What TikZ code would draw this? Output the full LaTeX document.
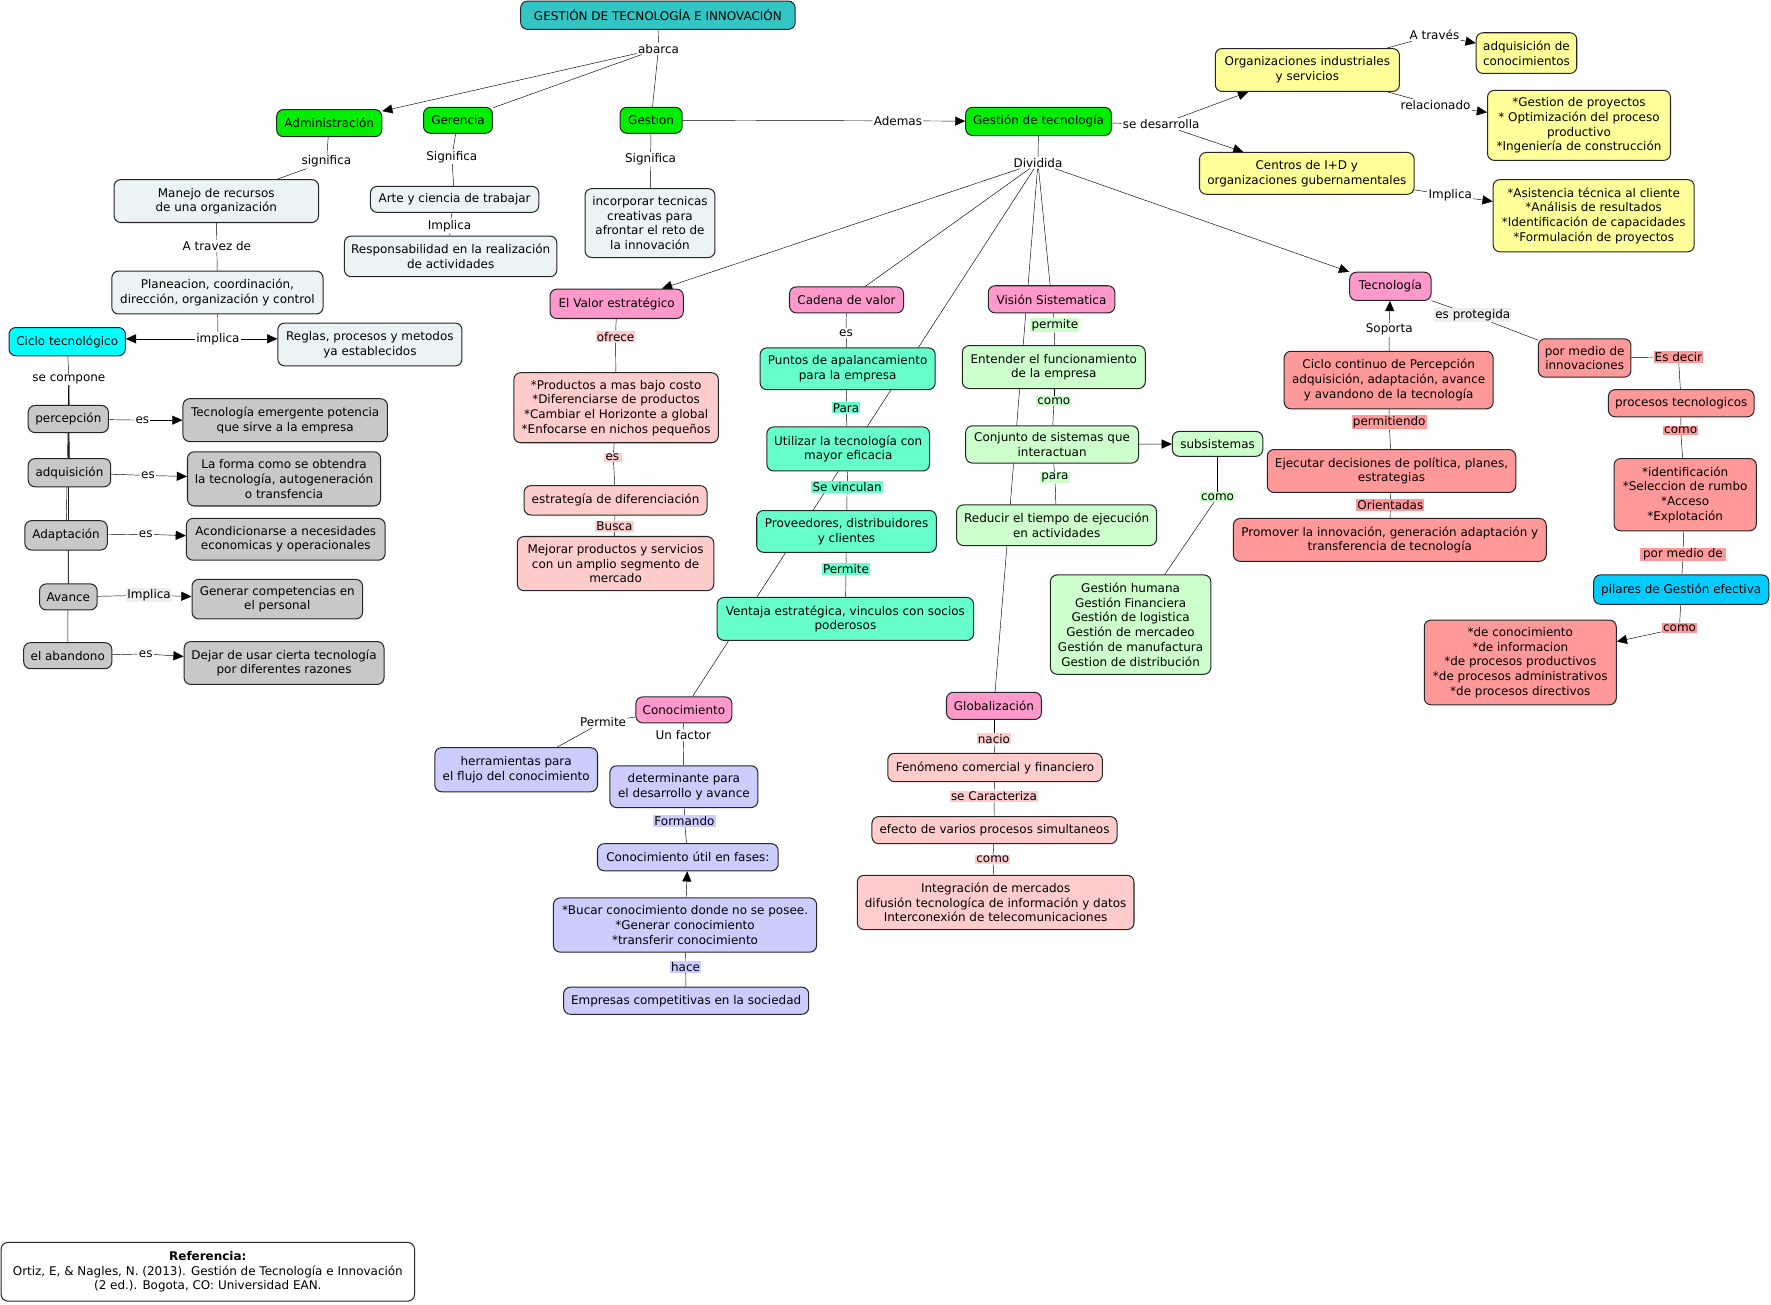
\documentclass[tikz,border=0pt]{standalone}
\usepackage{fontspec}
\setmainfont{DejaVu Sans}
\usetikzlibrary{arrows.meta,backgrounds}
\definecolor{cTitle}{RGB}{51,196,196}
\definecolor{cGreen}{RGB}{0,238,0}
\definecolor{cLight}{RGB}{236,243,245}
\definecolor{cGray}{RGB}{200,200,200}
\definecolor{cCyan}{RGB}{0,255,255}
\definecolor{cPink}{RGB}{255,153,204}
\definecolor{cLPink}{RGB}{255,204,204}
\definecolor{cAqua}{RGB}{102,255,204}
\definecolor{cLGreen}{RGB}{204,255,204}
\definecolor{cYellow}{RGB}{255,255,153}
\definecolor{cSalmon}{RGB}{255,153,153}
\definecolor{cLav}{RGB}{204,204,255}
\definecolor{cSky}{RGB}{0,204,255}
\definecolor{cLabGray}{RGB}{238,238,238}
\begin{document}
\begin{tikzpicture}[x=1pt,y=-1pt,
  every node/.style={font=\fontsize{10.6}{13}\selectfont},
  box/.style={draw=black!85, line width=0.9pt, rounded corners=6pt, align=center, inner sep=2pt},
  sz/.style 2 args={minimum width=#1pt, minimum height=#2pt},
  lab/.style={fill=white, inner sep=1pt, align=center},
  arr/.style={-{Triangle[length=9pt,width=8pt]}}]
\useasboundingbox (0,0) rectangle (1568,1155);

% ---- top
\node[box,fill=cTitle,sz={243}{25}] (title) at (582.5,13.5) {GESTIÓN DE TECNOLOGÍA E INNOVACIÓN};
\node[lab] (lAbarca) at (583,43) {abarca};
\node[box,fill=cGreen,sz={93}{24}] (adm) at (291.5,109) {Administración};
\node[box,fill=cGreen,sz={61}{23}] (ger) at (405.5,106.5) {Gerencia};
\node[box,fill=cGreen,sz={55}{23}] (gest) at (576.5,106.5) {Gestion};
\node[box,fill=cGreen,sz={129}{25}] (gdt) at (919.5,107.5) {Gestión de tecnología};
\node[lab] (lAdemas) at (795,107) {Ademas};

% ---- left
\node[lab] (lSig1) at (289,143) {significa};
\node[box,fill=cLight,sz={181}{38}] (manejo) at (191.5,178) {Manejo de recursos\\de una organización};
\node[lab] (lSig2) at (400,139) {Significa};
\node[box,fill=cLight,sz={149}{23}] (arte) at (402.5,176.5) {Arte y ciencia de trabajar};
\node[lab] (lImp1) at (398,200) {Implica};
\node[box,fill=cLight,sz={188}{36}] (resp) at (399,227) {Responsabilidad en la realización\\de actividades};
\node[lab] (lSig3) at (576,141) {Significa};
\node[box,fill=cLight,sz={115}{61}] (incorp) at (575.5,197.5) {incorporar tecnicas\\creativas para\\afrontar el reto de\\la innovación};
\node[lab] (lTravez) at (192,218) {A travez de};
\node[box,fill=cLight,sz={187}{38}] (plan) at (192.5,259) {Planeacion, coordinación,\\dirección, organización y control};
\node[lab] (lImpl) at (193,300) {implica};
\node[box,fill=cCyan,sz={103}{25}] (ciclo) at (59.5,302.5) {Ciclo tecnológico};
\node[box,fill=cLight,sz={163}{38}] (reglas) at (327.5,305) {Reglas, procesos y metodos\\ya establecidos};
\node[lab] (lComp) at (61,336) {se compone};
\node[box,fill=cGray,sz={71}{24}] (perc) at (60.5,371) {percepción};
\node[box,fill=cGray,sz={73}{25}] (adq) at (61.5,418.5) {adquisición};
\node[box,fill=cGray,sz={73}{26}] (adap) at (58.5,474) {Adaptación};
\node[box,fill=cGray,sz={51}{23}] (avan) at (60.5,528.5) {Avance};
\node[box,fill=cGray,sz={78}{23}] (aban) at (60,580.5) {el abandono};
\node[lab] (lEs1) at (126,372) {es};
\node[box,fill=cGray,sz={181}{38}] (temerg) at (252.5,372) {Tecnología emergente potencia\\que sirve a la empresa};
\node[lab] (lEs2) at (131,421) {es};
\node[box,fill=cGray,sz={171}{48}] (forma) at (251.5,424) {La forma como se obtendra\\la tecnología, autogeneración\\o transfencia};
\node[lab] (lEs3) at (129,473) {es};
\node[box,fill=cGray,sz={176}{37}] (acond) at (253,477.5) {Acondicionarse a necesidades\\economicas y operacionales};
\node[lab,fill=cLabGray] (lImp2) at (132,527) {Implica};
\node[box,fill=cGray,sz={151}{35}] (gener) at (245.5,530.5) {Generar competencias en\\el personal};
\node[lab] (lEs4) at (129,579) {es};
\node[box,fill=cGray,sz={177}{38}] (dejar) at (251.5,587) {Dejar de usar cierta tecnología\\por diferentes razones};

% ---- middle
\node[lab] (lDiv) at (919,144) {Dividida};
\node[box,fill=cPink,sz={118}{26}] (valor) at (546,269) {El Valor estratégico};
\node[box,fill=cPink,sz={101}{23}] (cadena) at (749.5,265.5) {Cadena de valor};
\node[box,fill=cPink,sz={112}{24}] (vision) at (931,265) {Visión Sistematica};
\node[box,fill=cPink,sz={72}{25}] (tecno) at (1231,253.5) {Tecnología};

\node[lab,fill=cLPink] (lOfrece) at (545,298) {ofrece};
\node[box,fill=cLPink,sz={181}{62}] (prod) at (545.5,361) {*Productos a mas bajo costo\\*Diferenciarse de productos\\*Cambiar el Horizonte a global\\*Enfocarse en nichos pequeños};
\node[lab,fill=cLPink] (lEs5) at (543,405) {es\,};
\node[box,fill=cLPink,sz={162}{26}] (estrat) at (545,443) {estrategía de diferenciación};
\node[lab,fill=cLPink] (lBusca) at (544,466) {Busca};
\node[box,fill=cLPink,sz={174}{48}] (mejorar) at (545,499) {Mejorar productos y servicios\\con un amplio segmento de\\mercado};

\node[lab] (lEs6) at (749,295) {es};
\node[box,fill=cAqua,sz={155}{37}] (puntos) at (750.5,326.5) {Puntos de apalancamiento\\para la empresa};
\node[lab,fill=cAqua] (lPara) at (749,361) {Para};
\node[box,fill=cAqua,sz={144}{39}] (utiliz) at (751,397.5) {Utilizar la tecnología con\\mayor eficacia};
\node[lab,fill=cAqua] (lVinc) at (750,431) {Se vinculan};
\node[box,fill=cAqua,sz={159}{37}] (prov) at (749.5,470.5) {Proveedores, distribuidores\\y clientes};
\node[lab,fill=cAqua] (lPerm1) at (749,504) {Permite};
\node[box,fill=cAqua,sz={227}{38}] (ventaja) at (748.5,548) {Ventaja estratégica, vinculos con socios\\poderosos};

\node[lab,fill=cLGreen] (lPermite) at (934,288) {permite};
\node[box,fill=cLGreen,sz={162}{38}] (entender) at (933,325) {Entender el funcionamiento\\de la empresa};
\node[lab,fill=cLGreen] (lComo1) at (933,355) {como};
\node[box,fill=cLGreen,sz={153}{33}] (conj) at (931.5,393.5) {Conjunto de sistemas que\\interactuan};
\node[box,fill=cLGreen,sz={80}{22}] (subs) at (1078,393) {subsistemas};
\node[lab,fill=cLGreen] (lPara2) at (934,423) {para};
\node[box,fill=cLGreen,sz={177}{36}] (reducir) at (935.5,465) {Reducir el tiempo de ejecución\\en actividades};
\node[lab,fill=cLGreen] (lComo2) at (1078,440) {como};
\node[box,fill=cLGreen,sz={142}{88}] (ghum) at (1001,553) {Gestión humana\\Gestión Financiera\\Gestión de logistica\\Gestión de mercadeo\\Gestión de manufactura\\Gestion de distribución};

\node[box,fill=cPink,sz={85}{23}] (conoc) at (605.5,628.5) {Conocimiento};
\node[lab] (lPerm2) at (534,639) {Permite};
\node[box,fill=cLav,sz={144}{39}] (herr) at (457,681.5) {herramientas para\\el flujo del conocimiento};
\node[lab] (lFactor) at (605,651) {Un factor};
\node[box,fill=cLav,sz={131}{37}] (determ) at (605.5,696.5) {determinante para\\el desarrollo y avance};
\node[lab,fill=cLav] (lForm) at (606,727) {Formando};
\node[box,fill=cLav,sz={160}{24}] (cutil) at (609,759) {Conocimiento útil en fases:};
\node[box,fill=cLav,sz={233}{48}] (bucar) at (606.5,819) {*Bucar conocimiento donde no se posee.\\*Generar conocimiento\\*transferir conocimiento};
\node[lab,fill=cLav] (lHace) at (607,856) {hace};
\node[box,fill=cLav,sz={217}{24}] (empresas) at (607.5,886) {Empresas competitivas en la sociedad};

\node[box,fill=cPink,sz={84}{24}] (glob) at (880,625) {Globalización};
\node[lab,fill=cLPink] (lNacio) at (880,654) {nacio};
\node[box,fill=cLPink,sz={190}{25}] (fenom) at (881,679.5) {Fenómeno comercial y financiero};
\node[lab,fill=cLPink] (lCaract) at (880,705) {se Caracteriza};
\node[box,fill=cLPink,sz={217}{24}] (efecto) at (880.5,735) {efecto de varios procesos simultaneos};
\node[lab,fill=cLPink] (lComo3) at (879,761) {como};
\node[box,fill=cLPink,sz={245}{48}] (integ) at (881.5,799) {Integración de mercados\\difusión tecnologíca de información y datos\\Interconexión de telecomunicaciones};

% ---- right
\node[lab] (lDesarr) at (1028,110) {se desarrolla};
\node[box,fill=cYellow,sz={163}{38}] (orgs) at (1157.5,62) {Organizaciones industriales\\y servicios};
\node[box,fill=cYellow,sz={190}{37}] (centros) at (1157,153.5) {Centros de I+D y\\organizaciones gubernamentales};
\node[lab] (lTraves) at (1270,31) {A través};
\node[box,fill=cYellow,sz={89}{36}] (adqc) at (1351.5,47) {adquisición de\\conocimientos};
\node[lab] (lRelac) at (1271,93) {relacionado};
\node[box,fill=cYellow,sz={162}{62}] (gproy) at (1398,111) {*Gestion de proyectos\\* Optimización del proceso\\productivo\\*Ingeniería de construcción};
\node[lab] (lImp3) at (1284,173) {Implica};
\node[box,fill=cYellow,sz={178}{64}] (asist) at (1411,191) {*Asistencia técnica al cliente\\*Análisis de resultados\\*Identificación de capacidades\\*Formulación de proyectos};

\node[lab] (lSoporta) at (1230,292) {Soporta};
\node[box,fill=cSalmon,sz={185}{51}] (ccont) at (1229.5,336.5) {Ciclo continuo de Percepción\\adquisición, adaptación, avance\\y avandono de la tecnología};
\node[lab,fill=cSalmon] (lPermit) at (1230,374) {permitiendo};
\node[box,fill=cSalmon,sz={220}{38}] (ejec) at (1232,417) {Ejecutar decisiones de política, planes,\\estrategias};
\node[lab,fill=cSalmon] (lOrient) at (1231,447) {Orientadas};
\node[box,fill=cSalmon,sz={277}{38}] (promo) at (1230.5,478) {Promover la innovación, generación adaptación y\\transferencia de tecnología};
\node[lab,fill=cLabGray] (lProteg) at (1304,279) {es protegida};
\node[box,fill=cSalmon,sz={82}{34}] (innov) at (1403,317) {por medio de\\innovaciones};
\node[lab,fill=cSalmon] (lDecir) at (1486,316) {Es decir};
\node[box,fill=cSalmon,sz={129}{24}] (proc) at (1488.5,357) {procesos tecnologicos};
\node[lab,fill=cSalmon] (lComo4) at (1488,381) {como};
\node[box,fill=cSalmon,sz={126}{64}] (ident) at (1492,438) {*identificación\\*Seleccion de rumbo\\*Acceso\\*Explotación};
\node[lab,fill=cSalmon] (lMedio) at (1490,491) {\,por medio de\,};
\node[box,fill=cSky,sz={155}{26}] (pilares) at (1488.5,522) {pilares de Gestión efectiva};
\node[lab,fill=cSalmon] (lComo5) at (1487,556) {como};
\node[box,fill=cSalmon,sz={170}{75}] (deconoc) at (1346,586.5) {*de conocimiento\\*de informacion\\*de procesos productivos\\*de procesos administrativos\\*de procesos directivos};

% ---- reference
\node[box,fill=white,sz={366}{52}] (ref) at (184,1126) {\textbf{Referencia:}\\Ortiz, E, \& Nagles, N. (2013). Gestión de Tecnología e Innovación\\(2 ed.). Bogota, CO: Universidad EAN.};

% ---- connectors
\begin{scope}[on background layer, line width=1pt]
\fill[white] (0,0) rectangle (1568,1155);
\draw (title) -- (lAbarca);
\draw[arr] (lAbarca) -- (adm);
\draw (lAbarca) -- (ger);
\draw (lAbarca) -- (gest);
\draw (gest) -- (lAdemas); \draw[arr] (lAdemas) -- (gdt);
\draw (adm) -- (lSig1); \draw (lSig1) -- (manejo);
\draw (ger) -- (lSig2); \draw (lSig2) -- (arte);
\draw (arte) -- (lImp1); \draw (lImp1) -- (resp);
\draw (gest) -- (lSig3); \draw (lSig3) -- (incorp);
\draw (manejo) -- (lTravez); \draw (lTravez) -- (plan);
\draw (plan) -- (lImpl);
\draw[arr] (lImpl) -- (lImpl -| ciclo.east);
\draw[arr] (lImpl) -- (lImpl -| reglas.west);
\draw (ciclo) -- (lComp);
\foreach \n in {perc,adq,adap,avan,aban} \draw (lComp) -- (\n);
\draw (perc) -- (lEs1); \draw[arr] (lEs1) -- (temerg);
\draw (adq) -- (lEs2); \draw[arr] (lEs2) -- (forma);
\draw (adap) -- (lEs3); \draw[arr] (lEs3) -- (acond);
\draw (avan) -- (lImp2); \draw[arr] (lImp2) -- (gener);
\draw (aban) -- (lEs4); \draw[arr] (lEs4) -- (dejar);

\draw (gdt) -- (lDiv);
\draw[arr] (lDiv) -- (valor);
\draw (lDiv) -- (cadena);
\draw (lDiv) -- (vision);
\draw (lDiv) -- (conoc);
\draw (lDiv) -- (glob);
\draw[arr] (lDiv) -- (tecno);

\draw (valor) -- (lOfrece); \draw (lOfrece) -- (prod);
\draw (prod) -- (lEs5); \draw (lEs5) -- (estrat);
\draw (estrat) -- (lBusca); \draw (lBusca) -- (mejorar);

\draw (cadena) -- (lEs6); \draw (lEs6) -- (puntos);
\draw (puntos) -- (lPara); \draw (lPara) -- (utiliz);
\draw (utiliz) -- (lVinc); \draw (lVinc) -- (prov);
\draw (prov) -- (lPerm1); \draw (lPerm1) -- (ventaja);

\draw (vision) -- (lPermite); \draw (lPermite) -- (entender);
\draw (entender) -- (lComo1); \draw (lComo1) -- (conj);
\draw[arr] (conj) -- (subs);
\draw (conj) -- (lPara2); \draw (lPara2) -- (reducir);
\draw (subs) -- (lComo2); \draw (lComo2) -- (ghum);

\draw (conoc) -- (lPerm2); \draw (lPerm2) -- (herr);
\draw (conoc) -- (lFactor); \draw (lFactor) -- (determ);
\draw (determ) -- (lForm); \draw (lForm) -- (cutil);
\draw[arr] (bucar) -- (cutil);
\draw (bucar) -- (lHace); \draw (lHace) -- (empresas);

\draw (glob) -- (lNacio); \draw (lNacio) -- (fenom);
\draw (fenom) -- (lCaract); \draw (lCaract) -- (efecto);
\draw (efecto) -- (lComo3); \draw (lComo3) -- (integ);

\draw (gdt) -- (lDesarr);
\draw[arr] (lDesarr) -- (orgs);
\draw[arr] (lDesarr) -- (centros);
\draw (orgs) -- (lTraves); \draw[arr] (lTraves) -- (adqc);
\draw (orgs) -- (lRelac); \draw[arr] (lRelac) -- (gproy);
\draw (centros) -- (lImp3); \draw[arr] (lImp3) -- (asist);

\draw (ccont) -- (lSoporta); \draw[arr] (lSoporta) -- (tecno);
\draw (tecno) -- (lProteg); \draw (lProteg) -- (innov);
\draw (innov) -- (lDecir); \draw (lDecir) -- (proc);
\draw (proc) -- (lComo4); \draw (lComo4) -- (ident);
\draw (ident) -- (lMedio); \draw (lMedio) -- (pilares);
\draw (pilares) -- (lComo5); \draw[arr] (lComo5) -- (deconoc);
\draw (ccont) -- (lPermit); \draw (lPermit) -- (ejec);
\draw (ejec) -- (lOrient); \draw (lOrient) -- (promo);
\end{scope}
\end{tikzpicture}
\end{document}
